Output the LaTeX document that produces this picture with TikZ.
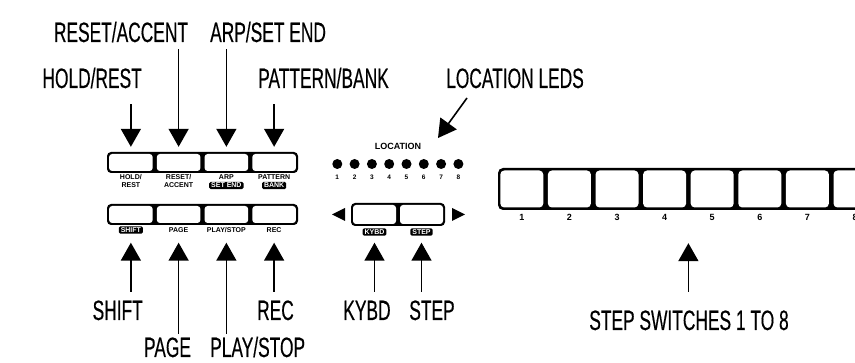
\documentclass[tikz,border=0pt]{standalone}
\usepackage{fontspec}
\setmainfont{Liberation Sans}
\newfontfamily\condf[FakeStretch=0.62,FakeBold=0.3]{Liberation Sans}
\usetikzlibrary{arrows.meta}
\begin{document}
\begin{tikzpicture}[x=1pt,y=-1pt,
  big/.style={font=\condf\fontsize{28}{30}\selectfont, inner sep=0pt, text height=20pt, text depth=0pt},
  small/.style={font=\bfseries\fontsize{7}{8}\selectfont, inner sep=0pt, align=center},
  one/.style={small, text height=5pt, text depth=0pt},
  inv/.style={one, fill=black, text=white, rounded corners=1.5pt, inner xsep=2pt, inner ysep=1.2pt},
  num/.style={font=\bfseries\fontsize{6.5}{7}\selectfont, inner sep=0pt, text height=4.7pt, text depth=0pt},
  snum/.style={font=\bfseries\fontsize{9}{10}\selectfont, inner sep=0pt, text height=6.5pt, text depth=0pt},
  arr/.style={line width=1.6pt, -{Triangle[width=20pt,length=18pt]}},
  panel/.style={fill=black, rounded corners=4pt, inner sep=0pt},
  cell/.style={fill=white, rounded corners=3pt, inner sep=0pt},
  led/.style={circle, fill=black, inner sep=0pt, minimum size=10pt},
  tri/.style={fill=black},
]
\useasboundingbox (0,0) rectangle (855,363);
\clip (0,0) rectangle (855,363);

% ---------- left button block ----------
\node[panel, minimum width=191pt, minimum height=21pt] (rowA) at (202.5,162.5) {};
\node[panel, minimum width=191pt, minimum height=21pt] (rowB) at (202.5,214.5) {};
\foreach \i in {1,...,4} {
  \node[cell, minimum width=43.5pt, minimum height=17pt] (a\i) at ({107+47.75*(\i-0.5)},162.5) {};
  \node[cell, minimum width=43.5pt, minimum height=17pt] (b\i) at ({107+47.75*(\i-0.5)},214.5) {};
}
\node[small, anchor=north] (la1) at (a1.south |- 0,174.5) {HOLD/\\REST};
\node[small, anchor=north] (la2) at (a2.south |- 0,174.5) {RESET/\\ACCENT};
\node[one] (la3) at (a3.south |- 0,177) {ARP};
\node[inv] (la3b) at (a3.south |- 0,185.5) {SET END};
\node[one] (la4) at (a4.south |- 0,177) {PATTERN};
\node[inv] (la4b) at (a4.south |- 0,185.5) {BANK};
\node[inv] (lb1) at (b1.south |- 0,230) {SHIFT};
\node[one] (lb2) at (b2.south |- 0,230) {PAGE};
\node[one] (lb3) at (b3.south |- 0,230) {PLAY/STOP};
\node[one] (lb4) at (b4.south |- 0,230) {REC};

% ---------- location LEDs ----------
\node[font=\bfseries\fontsize{9}{10}\selectfont, inner sep=0pt, text height=6.4pt, text depth=0pt] (loc) at (398,146) {LOCATION};
\foreach \i in {1,...,8} {
  \node[led] (led\i) at ({337.3+17.3*(\i-1)},164) {};
  \node[num] (ln\i) at ({337.3+17.3*(\i-1)},177) {\i};
}

% ---------- KYBD / STEP ----------
\node[panel, minimum width=94pt, minimum height=23pt] (rowK) at (398,214.5) {};
\node[cell, minimum width=43pt, minimum height=19pt] (k1) at (374.5,214.5) {};
\node[cell, minimum width=43pt, minimum height=19pt] (k2) at (421.5,214.5) {};
\node[inv] (lk1) at (374.5,232) {KYBD};
\node[inv] (lk2) at (421.5,232) {STEP};
\fill[tri] (345,208) -- (332,214.5) -- (345,221) -- cycle;
\fill[tri] (452,208) -- (465,214.5) -- (452,221) -- cycle;

% ---------- step switches ----------
\node[panel, minimum width=380.8pt, minimum height=42pt, rounded corners=5pt] (stepP) at (688.4,189) {};
\foreach \i in {1,...,8} {
  \node[cell, minimum width=43pt, minimum height=37pt, rounded corners=4pt] (s\i) at ({498+47.6*(\i-0.5)},189) {};
  \node[snum] (sn\i) at ({498+47.6*(\i-0.5)},217.5) {\i};
}

% ---------- callout labels ----------
\node[big] (resetL) at (121,32) {RESET/ACCENT};
\node[big, anchor=west] (arpL) at (210,32) {ARP/SET END};
\node[big, anchor=east] (holdL) at (142,78) {HOLD/REST};
\node[big, anchor=west] (patL) at (258,78) {PATTERN/BANK};
\node[big] (ledsL) at (515,78) {LOCATION LEDS};
\node[big, anchor=east] (shiftL) at (143,310) {SHIFT};
\node[big] (recL) at (275.5,310) {REC};
\node[big] (kybdL) at (367,310) {KYBD};
\node[big] (stepL) at (432,310) {STEP};
\node[big] (pageL) at (167.5,347) {PAGE};
\node[big, anchor=west] (playL) at (210,347) {PLAY/STOP};
\node[big] (swL) at (689,320) {STEP SWITCHES 1 TO 8};

% ---------- arrows ----------
\draw[arr, shorten <=16pt, shorten >=7pt] (holdL.south -| a1) -- (a1.north);
\draw[arr, shorten <=7pt, shorten >=7pt] (resetL.south -| a2) -- (a2.north);
\draw[arr, shorten <=7pt, shorten >=7pt] (arpL.south -| a3) -- (a3.north);
\draw[arr, shorten <=16pt, shorten >=7pt] (patL.south -| a4) -- (a4.north);
\coordinate (ledA) at (467,98);
\coordinate (ledB) at (438,138);
\draw[arr] (ledA) -- (ledB);
\draw[arr, shorten <=8pt, shorten >=19.5pt] (shiftL.north -| b1) -- (b1.south);
\draw[arr, shorten <=3pt, shorten >=19.5pt] (pageL.north -| b2) -- (b2.south);
\draw[arr, shorten <=3pt, shorten >=19.5pt] (playL.north -| b3) -- (b3.south);
\draw[arr, shorten <=8pt, shorten >=19.5pt] (recL.north -| b4) -- (b4.south);
\draw[arr, shorten <=8pt, shorten >=18.5pt] (kybdL.north -| k1) -- (k1.south);
\draw[arr, shorten <=8pt, shorten >=18.5pt] (stepL.north -| k2) -- (k2.south);
\draw[arr, shorten <=18pt, shorten >=33pt] (swL.north -| stepP) -- (stepP.south);
\end{tikzpicture}
\end{document}
